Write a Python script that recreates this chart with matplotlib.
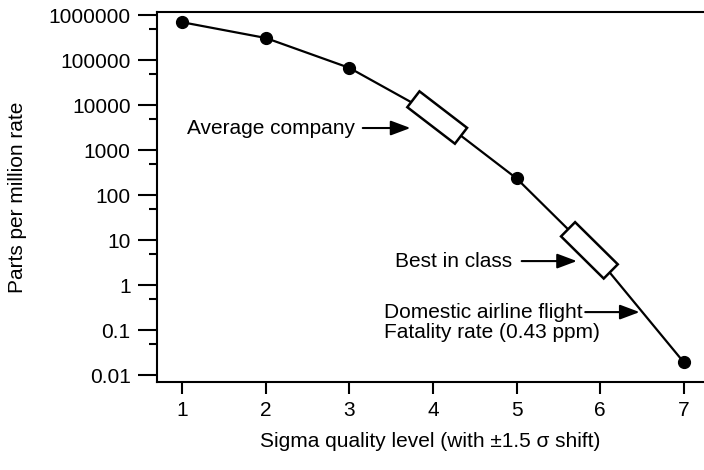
import numpy as np
import matplotlib
matplotlib.use('Agg')
import matplotlib.pyplot as plt
from matplotlib.patches import Rectangle
from matplotlib import transforms

plt.rcParams['font.family'] = ['Liberation Sans', 'DejaVu Sans']

# Sigma level against defect rate (ppm, with the 1.5 sigma shift)
sigma = [1, 2, 3, 4, 5, 6, 7]
ppm = [691462, 308538, 66807, 6210, 233, 3.4, 0.019]
# points that get a dot (4 and 6 are covered by the boxes)
dot_idx = [0, 1, 2, 4, 6]

y_ticks = [1e6, 1e5, 1e4, 1e3, 100, 10, 1, 0.1, 0.01]
y_labels = ['1000000', '100000', '10000', '1000', '100', '10', '1', '0.1', '0.01']
y_minor = [5e5, 5e4, 5e3, 500, 50, 5, 0.5, 0.05]

# sigma positions of the two boxes sitting on the curve
box_sigma = [4.05, 5.87]

# annotation text: label, text anchor, arrow tail, arrow tip
notes = [
    ('Average company', (3.07, 3080), (3.16, 3080), (3.73, 3080)),
    ('Best in class', (4.94, 3.4), (5.06, 3.4), (5.72, 3.4)),
    ('Domestic airline flight', (3.41, 0.25), (5.82, 0.25), (6.47, 0.25)),
]
note_sub = ('Fatality rate (0.43 ppm)', (3.41, 0.086))

fig = plt.figure(figsize=(7.04, 4.70), dpi=100)
ax = fig.add_axes([157 / 704, 1 - 382 / 470, (704 - 157) / 704, (382 - 12) / 470])
ax.set_yscale('log')
ax.set_xlim(0.70, 7.24)
ax.set_ylim(0.00699, 1.166e6)

ax.plot(sigma, ppm, color='black', lw=1.6, marker='o', ms=8.5,
        markevery=dot_idx, zorder=2)

# rotated boxes along the curve, sized in inches, placed in data coords
log_ppm = np.log10(ppm)
for s in box_sigma:
    v = 10 ** np.interp(s, sigma, log_ppm)
    p1 = ax.transData.transform((s - 0.04, 10 ** np.interp(s - 0.04, sigma, log_ppm)))
    p2 = ax.transData.transform((s + 0.04, 10 ** np.interp(s + 0.04, sigma, log_ppm)))
    ang = np.degrees(np.arctan2(p2[1] - p1[1], p2[0] - p1[0]))
    trans = (transforms.Affine2D().rotate_deg(ang) + fig.dpi_scale_trans
             + transforms.ScaledTranslation(s, v, ax.transData))
    ax.add_patch(Rectangle((-0.30, -0.10), 0.60, 0.20, transform=trans,
                           facecolor='white', edgecolor='black', lw=1.8, zorder=3))

for label, txt_pos, tail, tip in notes:
    ha = 'left' if label.startswith('Domestic') else 'right'
    ax.text(txt_pos[0], txt_pos[1], label, fontsize=15, ha=ha, va='center')
    ax.annotate('', xy=tip, xytext=tail,
                arrowprops=dict(arrowstyle='-|>,head_length=0.8,head_width=0.3',
                                color='black', lw=1.5, mutation_scale=15,
                                shrinkA=0, shrinkB=0))
ax.text(note_sub[1][0], note_sub[1][1], note_sub[0], fontsize=15, ha='left', va='center')

ax.set_xticks(sigma)
ax.set_yticks(y_ticks, y_labels)
ax.set_yticks(y_minor, minor=True)
ax.yaxis.set_minor_formatter(plt.NullFormatter())
ax.tick_params(axis='y', which='major', length=14, width=1.5, pad=5, labelsize=15)
ax.tick_params(axis='y', which='minor', length=6, width=1.5)
ax.tick_params(axis='x', which='major', length=8.5, width=1.5, pad=5, labelsize=15)

ax.spines['right'].set_visible(False)
for side in ['left', 'top', 'bottom']:
    ax.spines[side].set_linewidth(1.5)

ax.set_ylabel('Parts per million rate', fontsize=15)
ax.yaxis.set_label_coords(-0.238, 0.5)
ax.set_xlabel('Sigma quality level (with \u00b11.5 \u03c3 shift)', fontsize=15)
ax.xaxis.set_label_coords(0.5, -0.135)

fig.savefig('out.png', dpi=100)
